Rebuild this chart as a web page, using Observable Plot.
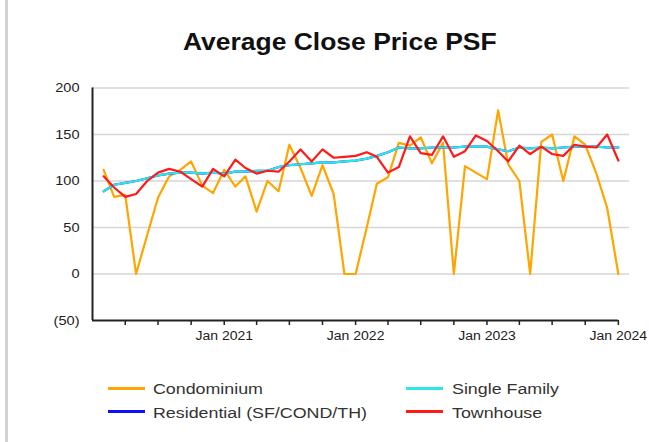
<!DOCTYPE html>
<html>
<head>
<meta charset="utf-8">
<script src="https://cdn.jsdelivr.net/npm/d3@7"></script>
<script src="https://cdn.jsdelivr.net/npm/@observablehq/plot@0.6"></script>
<style>
  body { margin: 0; background: #fff; font-family: "Liberation Sans", Arial, sans-serif; }
  #wrap { position: relative; width: 649px; height: 442px; overflow: hidden; background: #fff; }
  #border { position: absolute; left: 5px; top: 0; width: 3px; height: 442px; background: #d2d2d2; }
  #chart { position: absolute; left: 0; top: 0; }
  #title { position: absolute; top: 30.5px; left: 183px; font-size: 23px; line-height: 23px; font-weight: bold;
           color: #111; white-space: nowrap; transform: scaleX(1.15); transform-origin: left center; }
  .leg { position: absolute; font-size: 15.5px; line-height: 15.5px; color: #333; white-space: nowrap;
         transform: scaleX(1.15); transform-origin: left center; }
  .sw { position: absolute; width: 37px; height: 3px; }
</style>
</head>
<body>
<div id="wrap">
  <div id="border"></div>
  <div id="chart"></div>
  <div id="title"></div>
  <div id="legend"></div>
</div>
<script>
// ---- data (monthly, Feb 2020 .. Jan 2024) ----
const firstMonth = "2020-02-01";
const lastMonth = "2024-01-01";
const seriesNames = ["Condominium", "Residential (SF/COND/TH)", "Single Family", "Townhouse"];
const seriesColors = ["#FFA500", "#1010FF", "#2EE6E6", "#FF1A1A"];

const condominium = [112, 83, 85, 0, 42, 82, 105, 112, 121, 95, 87, 112,
                     94, 105, 67, 100, 89, 139, 114, 84, 117, 86, 0, 0,
                     50, 97, 104, 141, 138, 147, 119, 141, 0, 116, 109, 102,
                     176, 118, 100, 0, 142, 150, 100, 148, 139, 108, 71, 0];
const residential = [89, 96, 98, 100, 103, 106, 108, 109, 109, 108, 109, 108,
                     110, 110, 111, 111, 115, 117, 118, 119, 120, 120, 121, 122,
                     124, 127, 131, 136, 135, 135, 136, 136, 136, 137, 137, 137,
                     134, 132, 136, 135, 136, 135, 136, 137, 137, 137, 136, 136];
const singleFamily = [89, 96, 98, 100, 103, 106, 108, 109, 109, 108, 109, 108,
                      110, 110, 111, 111, 115, 117, 118, 119, 120, 120, 121, 122,
                      124, 127, 131, 136, 135, 135, 136, 136, 136, 137, 137, 137,
                      134, 132, 136, 135, 136, 135, 136, 137, 137, 137, 136, 136];
const townhouse = [105, 93, 83, 86, 100, 109, 113, 110, 102, 94, 113, 105,
                   123, 114, 108, 111, 110, 121, 134, 121, 134, 125, 126, 127,
                   131, 126, 109, 115, 148, 130, 128, 148, 126, 132, 149, 143,
                   132, 121, 138, 129, 137, 129, 127, 139, 137, 136, 150, 122];

const yTicks = [-50, 0, 50, 100, 150, 200];
const gridValues = [0, 50, 100, 150, 200];
const xTickLabels = ["Jan 2021", "Jan 2022", "Jan 2023", "Jan 2024"];

// ---- build table ----
const months = d3.utcMonth.range(new Date(firstMonth), d3.utcMonth.offset(new Date(lastMonth), 1));
const allValues = [condominium, residential, singleFamily, townhouse];
const data = seriesNames.flatMap((name, s) =>
  allValues[s].map((v, i) => ({ date: months[i], value: v, series: name })));

const xStart = new Date("2020-01-01");
const xEnd = new Date("2024-02-01");
const axisEnd = new Date("2024-01-01");
const quarterTicks = d3.utcMonth.every(3).range(new Date("2020-04-01"), xEnd);
const labelFor = d => {
  if (d.getUTCMonth() !== 0) return "";
  const lab = xTickLabels.find(t => t.endsWith(String(d.getUTCFullYear())));
  return lab || "";
};

const chart = Plot.plot({
  width: 649,
  height: 350,
  marginTop: 87.5,
  marginBottom: 30,
  marginLeft: 92,
  marginRight: 20,
  style: { fontFamily: "'Liberation Sans', Arial, sans-serif", fontSize: "13px", color: "#222", background: "transparent", overflow: "visible" },
  x: { type: "utc", domain: [xStart, xEnd] },
  y: { domain: [-50, 200] },
  color: { domain: seriesNames, range: seriesColors },
  marks: [
    Plot.ruleY(gridValues, { stroke: "#d6d6d6", strokeWidth: 1.5 }),
    Plot.lineY(data, { x: "date", y: "value", z: "series", stroke: "series", strokeWidth: 2.2, curve: "linear" }),
    Plot.ruleX([xStart], { y1: -50, y2: 200, stroke: "#222", strokeWidth: 2 }),
    Plot.ruleY([-50], { x1: xStart, x2: axisEnd, stroke: "#222", strokeWidth: 2.2 }),
    Plot.axisX({ ticks: quarterTicks, tickSize: 5, tickPadding: 6, tickFormat: labelFor, stroke: "#222", strokeWidth: 1.5, fontSize: 12.5, label: null }),
    Plot.axisY({ ticks: yTicks, tickSize: 0, tickPadding: 13, tickFormat: d => d < 0 ? `(${-d})` : String(d), fontSize: 13, label: null })
  ]
});
document.getElementById("chart").appendChild(chart);

// stretch axis text slightly to match the wide rendering of the reference
chart.querySelectorAll("text").forEach(t => {
  const w = t.getComputedTextLength();
  if (w > 0) { t.setAttribute("textLength", w * 1.12); t.setAttribute("lengthAdjust", "spacingAndGlyphs"); }
});

// ---- title & legend ----
document.getElementById("title").textContent = "Average Close Price PSF";
const legend = document.getElementById("legend");
const legPos = [
  { sx: 108, tx: 153, y: 388 },
  { sx: 108, tx: 153, y: 411.5 },
  { sx: 406, tx: 452, y: 388 },
  { sx: 406, tx: 452, y: 411.5 }
];
seriesNames.forEach((name, i) => {
  const p = legPos[i];
  const sw = document.createElement("div");
  sw.className = "sw";
  sw.style.left = p.sx + "px";
  sw.style.top = (p.y - 1.5) + "px";
  sw.style.background = seriesColors[i];
  legend.appendChild(sw);
  const tx = document.createElement("div");
  tx.className = "leg";
  tx.style.left = p.tx + "px";
  tx.style.top = (p.y - 7) + "px";
  tx.textContent = name;
  legend.appendChild(tx);
});
</script>
</body>
</html>
